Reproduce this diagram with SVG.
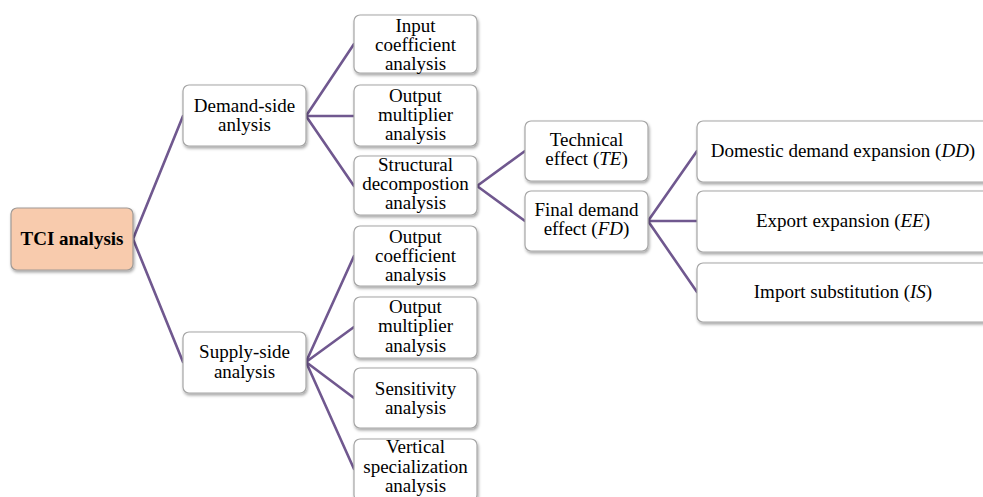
<svg xmlns="http://www.w3.org/2000/svg" width="983" height="497" viewBox="0 0 983 497">
<defs>
<filter id="sh" x="-10%" y="-10%" width="130%" height="140%">
<feDropShadow dx="1" dy="2" stdDeviation="1.5" flood-color="#000" flood-opacity="0.35"/>
</filter>
<style>
.box{fill:#fff;stroke:#a6a6a6;stroke-width:1.2;filter:url(#sh)}
.root{fill:#f8cbad;stroke:#a09a96;stroke-width:1.2;filter:url(#sh)}
text{font-family:'Liberation Serif','Times New Roman',Times,'DejaVu Serif',serif;font-size:19px;fill:#000;text-anchor:middle}
.b{font-weight:bold}
.i{font-style:italic}
.con line{stroke:#70588f;stroke-width:2.6;stroke-linecap:round}
</style>
</defs>
<rect width="983" height="497" fill="#fff"/>
<g class="con" id="connectors">
<line x1="133" y1="239" x2="183" y2="116"/>
<line x1="133" y1="239" x2="183" y2="362"/>
<line x1="306" y1="116" x2="354" y2="44"/>
<line x1="306" y1="116" x2="354" y2="116"/>
<line x1="306" y1="116" x2="354" y2="186"/>
<line x1="306" y1="362" x2="354" y2="256"/>
<line x1="306" y1="362" x2="354" y2="327"/>
<line x1="306" y1="362" x2="354" y2="398"/>
<line x1="306" y1="362" x2="354" y2="469"/>
<line x1="477" y1="186" x2="525" y2="151"/>
<line x1="477" y1="186" x2="525" y2="221"/>
<line x1="648" y1="221" x2="697" y2="151"/>
<line x1="648" y1="221" x2="697" y2="221"/>
<line x1="648" y1="221" x2="697" y2="292"/>
</g>
<g id="tci">
<rect class="root" x="11" y="208" width="122" height="62" rx="6"/>
<text class="b" x="72" y="245">TCI analysis</text>
</g>
<g id="demand">
<rect class="box" x="183" y="85" width="123" height="61" rx="6"/>
<text x="244.5" y="111.5">Demand-side</text>
<text x="244.5" y="131">anlysis</text>
</g>
<g id="supply">
<rect class="box" x="183" y="332" width="123" height="61" rx="6"/>
<text x="244.5" y="358">Supply-side</text>
<text x="244.5" y="377.5">analysis</text>
</g>
<g id="input-coef">
<rect class="box" x="354" y="15" width="123" height="58" rx="6"/>
<text x="415.5" y="32">Input</text>
<text x="415.5" y="51">coefficient</text>
<text x="415.5" y="70">analysis</text>
</g>
<g id="output-mult-d">
<rect class="box" x="354" y="85" width="123" height="61" rx="6"/>
<text x="415.5" y="102">Output</text>
<text x="415.5" y="121">multiplier</text>
<text x="415.5" y="140">analysis</text>
</g>
<g id="structural">
<rect class="box" x="354" y="156" width="123" height="59" rx="6"/>
<text x="415.5" y="171">Structural</text>
<text x="415.5" y="190">decompostion</text>
<text x="415.5" y="209">analysis</text>
</g>
<g id="output-coef">
<rect class="box" x="354" y="226" width="123" height="60" rx="6"/>
<text x="415.5" y="242.5">Output</text>
<text x="415.5" y="261.5">coefficient</text>
<text x="415.5" y="281">analysis</text>
</g>
<g id="output-mult-s">
<rect class="box" x="354" y="297" width="123" height="61" rx="6"/>
<text x="415.5" y="313">Output</text>
<text x="415.5" y="332">multiplier</text>
<text x="415.5" y="351.5">analysis</text>
</g>
<g id="sensitivity">
<rect class="box" x="354" y="368" width="123" height="60" rx="6"/>
<text x="415.5" y="395">Sensitivity</text>
<text x="415.5" y="414">analysis</text>
</g>
<g id="vertical">
<rect class="box" x="354" y="439" width="123" height="62" rx="6"/>
<text x="415.5" y="453">Vertical</text>
<text x="415.5" y="473">specialization</text>
<text x="415.5" y="492">analysis</text>
</g>
<g id="technical">
<rect class="box" x="525" y="121" width="123" height="60" rx="6"/>
<text x="586.5" y="146">Technical</text>
<text x="586.5" y="165">effect (<tspan class="i">TE</tspan>)</text>
</g>
<g id="final-demand">
<rect class="box" x="525" y="191" width="123" height="60" rx="6"/>
<text x="586.5" y="216">Final demand</text>
<text x="586.5" y="235">effect (<tspan class="i">FD</tspan>)</text>
</g>
<g id="dd">
<rect class="box" x="697" y="121" width="300" height="61" rx="6"/>
<text x="843" y="156.5">Domestic demand expansion (<tspan class="i">DD</tspan>)</text>
</g>
<g id="ee">
<rect class="box" x="697" y="191" width="300" height="61" rx="6"/>
<text x="843" y="227">Export expansion (<tspan class="i">EE</tspan>)</text>
</g>
<g id="is">
<rect class="box" x="697" y="263" width="300" height="59" rx="6"/>
<text x="843" y="298">Import substitution (<tspan class="i">IS</tspan>)</text>
</g>
</svg>
